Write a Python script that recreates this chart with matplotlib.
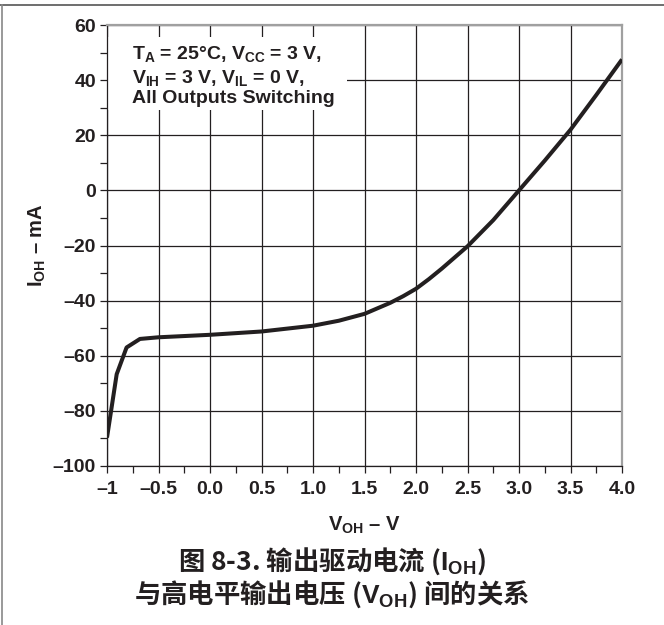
import matplotlib
matplotlib.use("Agg")
import matplotlib.pyplot as plt
from matplotlib.patches import Rectangle
from matplotlib.lines import Line2D

# fuentes
plt.rcParams['font.family'] = ['Liberation Sans', 'DejaVu Sans']
plt.rcParams['font.weight'] = 'bold'
plt.rcParams['axes.labelweight'] = 'bold'
plt.rcParams['mathtext.fontset'] = 'custom'
plt.rcParams['mathtext.rm'] = 'Liberation Sans:bold'
plt.rcParams['mathtext.bf'] = 'Liberation Sans:bold'
plt.rcParams['mathtext.it'] = 'Liberation Sans:bold'

voh = [-1.0, -0.906, -0.81, -0.68, -0.5, 0.0, 0.5, 1.0, 1.25, 1.5, 1.75,
       1.875, 2.0, 2.125, 2.25, 2.5, 2.75, 3.0, 3.25, 3.5, 3.75, 4.0]
ioh = [-89.7, -66.7, -57.0, -53.9, -53.3, -52.4, -51.2, -49.1, -47.3, -44.8, -40.8,
       -38.4, -35.7, -32.2, -28.4, -20.3, -10.8, 0.0, 10.8, 22.0, 34.6, 47.5]

# ejes
x_ticks = [-1, -0.5, 0.0, 0.5, 1.0, 1.5, 2.0, 2.5, 3.0, 3.5, 4.0]
x_labels = ["–1", "–0.5", "0.0", "0.5", "1.0", "1.5", "2.0", "2.5", "3.0", "3.5", "4.0"]
x_minor = [-0.75, -0.25, 0.25, 0.75, 1.25, 1.75, 2.25, 2.75, 3.25, 3.75]
y_ticks = [-100, -80, -60, -40, -20, 0, 20, 40, 60]
y_labels = ["–100", "–80", "–60", "–40", "–20", "0", "20", "40", "60"]
y_minor = [-90, -70, -50, -30, -10, 10, 30, 50]

condiciones = [r"$\mathbf{T_A}$ = 25°C, $\mathbf{V_{CC}}$ = 3 V,",
               r"$\mathbf{V_{IH}}$ = 3 V, $\mathbf{V_{IL}}$ = 0 V,",
               "All Outputs Switching"]
titulo = [r"图 8-3. 输出驱动电流 ($\mathbf{I_{OH}}$)",
          r"与高电平输出电压 ($\mathbf{V_{OH}}$) 间的关系"]

oscuro = "#231f20"
W, H = 664, 625

fig = plt.figure(figsize=(W / 100, H / 100), dpi=100)
ax = fig.add_axes([107 / W, 1 - 466 / H, 515 / W, 441 / H])

ax.plot(voh, ioh, color=oscuro, lw=2.9, solid_capstyle='butt',
        solid_joinstyle='round', zorder=4)

ax.set_xlim(-1, 4)
ax.set_ylim(-100, 60)
ax.set_xticks(x_ticks)
ax.set_xticklabels(x_labels)
ax.set_xticks(x_minor, minor=True)
ax.set_yticks(y_ticks)
ax.set_yticklabels(y_labels)
ax.set_yticks(y_minor, minor=True)
ax.tick_params(which='both', direction='out', length=5, width=0.9, color=oscuro,
               labelsize=14, labelcolor=oscuro)
ax.tick_params(axis='x', pad=6)
ax.tick_params(axis='y', pad=3)
ax.grid(True, which='major', color=oscuro, lw=0.9)
ax.set_axisbelow(True)

for lado in ['left', 'bottom']:
    ax.spines[lado].set_color(oscuro)
    ax.spines[lado].set_linewidth(0.9)
for lado in ['top', 'right']:
    ax.spines[lado].set_color("#a0a0a0")
    ax.spines[lado].set_linewidth(1.6)

ax.set_xlabel(r"$\mathbf{V_{OH}}$ – V", fontsize=14.5, color=oscuro, va='center',
              weight='bold')
ax.xaxis.set_label_coords(0.5, -(525 - 466) / 441)
ax.set_ylabel(r"$\mathbf{I_{OH}}$ – mA", fontsize=14.5, color=oscuro, va='center',
              weight='bold')
ax.yaxis.set_label_coords(-(107 - 37) / 515, 0.5)

# recuadro blanco detras de las condiciones
ax.add_patch(Rectangle((0, (466 - 110) / 441), (347 - 107) / 515, 73 / 441,
                       transform=ax.transAxes, facecolor='white', edgecolor='none', zorder=2))
for texto, base in zip(condiciones, [59, 83, 103]):
    ax.text((132 - 107) / 515, (466 - base) / 441, texto, transform=ax.transAxes,
            fontsize=14, color=oscuro, va='baseline', ha='left', zorder=3)

# titulo de la figura
for texto, base in zip(titulo, [570, 603]):
    fig.text(0.5, 1 - base / H, texto, ha='center', va='baseline', fontsize=19,
             family='Noto Sans CJK SC', weight='bold', color=oscuro)

# marco exterior
fig.add_artist(Line2D([0, 1], [1 - 5 / H, 1 - 5 / H], transform=fig.transFigure,
                      color="#555555", lw=1.2))
fig.add_artist(Line2D([1.5 / W, 1.5 / W], [0, 1 - 5 / H], transform=fig.transFigure,
                      color="#888888", lw=1.2))

fig.savefig("out.png", dpi=100)
